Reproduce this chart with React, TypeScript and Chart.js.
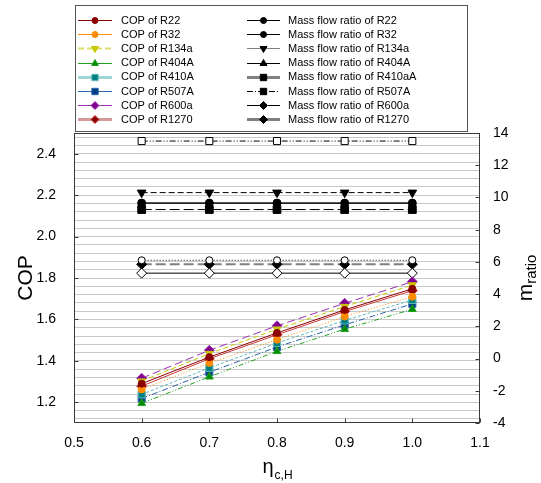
import React, { useEffect, useRef } from 'react';
import { Chart, registerables } from 'chart.js';

Chart.register(...registerables);

const FONT = 'Arial, "Liberation Sans", sans-serif';

// x values (eta_c,H)
const ETA = [0.6, 0.7, 0.8, 0.9, 1.0];
const X_TICKS = [0.5, 0.6, 0.7, 0.8, 0.9, 1.0, 1.1];
const COP_TICKS = [1.2, 1.4, 1.6, 1.8, 2.0, 2.2, 2.4];
const MR_TICKS = [-4, -2, 0, 2, 4, 6, 8, 10, 12, 14];

// COP series (left axis)
const COP_R22 = [1.29, 1.418, 1.535, 1.646, 1.748];
const COP_R32 = [1.262, 1.39, 1.502, 1.614, 1.71];
const COP_R134a = [1.302, 1.435, 1.553, 1.662, 1.766];
const COP_R404A = [1.195, 1.323, 1.446, 1.553, 1.649];
const COP_R410A = [1.238, 1.366, 1.486, 1.595, 1.694];
const COP_R507A = [1.218, 1.345, 1.467, 1.574, 1.675];
const COP_R600a = [1.316, 1.451, 1.569, 1.678, 1.782];
const COP_R1270 = [1.278, 1.41, 1.526, 1.638, 1.739];

// Mass flow ratio series (right axis)
const MR_R22 = [9.65, 9.65, 9.65, 9.65, 9.65];
const MR_R32 = [6.1, 6.1, 6.1, 6.1, 6.1];
const MR_R134a = [10.3, 10.3, 10.3, 10.3, 10.3];
const MR_R404A = [9.65, 9.65, 9.65, 9.65, 9.65];
const MR_R410aA = [9.25, 9.25, 9.25, 9.25, 9.25];
const MR_R507A = [13.5, 13.5, 13.5, 13.5, 13.5];
const MR_R600a = [5.3, 5.3, 5.3, 5.3, 5.3];
const MR_R1270 = [5.85, 5.85, 5.85, 5.85, 5.85];

function mk(label: string, data: number[], axis: string, st: any, lg: any) {
  return {
    label,
    data: data.map((y, i) => ({ x: ETA[i], y })),
    yAxisID: axis,
    borderColor: st.color,
    borderWidth: st.width ?? 1,
    borderDash: st.dash ?? [],
    pointStyle: st.shape,
    pointRotation: st.rot ?? 0,
    pointRadius: st.r,
    pointBackgroundColor: st.fill,
    pointBorderColor: st.pcolor ?? st.color,
    pointBorderWidth: 1,
    tension: 0,
    fill: false,
    lg: { color: lg.color ?? st.color, width: lg.width ?? 1, dash: lg.dash ?? [], fill: lg.fill ?? st.fill, pcolor: lg.pcolor ?? st.pcolor ?? st.color },
  };
}

function drawMarker(ctx: CanvasRenderingContext2D, shape: string, rot: number, x: number, y: number, r: number, fill: string, stroke: string) {
  ctx.save();
  ctx.setLineDash([]);
  ctx.lineWidth = 1;
  ctx.fillStyle = fill;
  ctx.strokeStyle = stroke;
  ctx.beginPath();
  if (shape === 'circle') {
    ctx.arc(x, y, r, 0, Math.PI * 2);
  } else if (shape === 'rect') {
    const s = r * Math.SQRT1_2;
    ctx.rect(x - s, y - s, 2 * s, 2 * s);
  } else if (shape === 'rectRot') {
    ctx.moveTo(x, y - r);
    ctx.lineTo(x + r, y);
    ctx.lineTo(x, y + r);
    ctx.lineTo(x - r, y);
    ctx.closePath();
  } else if (shape === 'triangle') {
    const a0 = (rot * Math.PI) / 180;
    for (let k = 0; k < 3; k++) {
      const a = a0 + (k * 2 * Math.PI) / 3;
      const px = x + Math.sin(a) * r;
      const py = y - Math.cos(a) * r;
      if (k === 0) ctx.moveTo(px, py);
      else ctx.lineTo(px, py);
    }
    ctx.closePath();
  }
  ctx.fill();
  ctx.stroke();
  ctx.restore();
}

const decorPlugin = {
  id: 'decor',
  afterDraw(chart: any) {
    const ctx: CanvasRenderingContext2D = chart.ctx;
    const { left, right, top, bottom } = chart.chartArea;
    const sx = chart.scales.x;
    const sy = chart.scales.y;
    const sy1 = chart.scales.y1;
    ctx.save();
    // frame
    ctx.strokeStyle = '#3a3a3a';
    ctx.lineWidth = 1;
    ctx.setLineDash([]);
    const L = Math.round(left) + 0.5, R = Math.round(right) - 0.5, T = Math.round(top) + 0.5, B = Math.round(bottom) - 0.5;
    ctx.strokeRect(L, T, R - L, B - T);
    // inward ticks
    ctx.beginPath();
    COP_TICKS.forEach((v) => {
      const y = Math.round(sy.getPixelForValue(v)) + 0.5;
      ctx.moveTo(L, y); ctx.lineTo(L + 4, y);
    });
    MR_TICKS.forEach((v) => {
      const y = Math.round(sy1.getPixelForValue(v)) + 0.5;
      ctx.moveTo(R, y); ctx.lineTo(R - 4, y);
    });
    X_TICKS.forEach((v) => {
      const x = Math.round(sx.getPixelForValue(v)) + 0.5;
      ctx.moveTo(x, B); ctx.lineTo(x, B - 4);
    });
    ctx.stroke();

    // axis titles
    ctx.fillStyle = '#000';
    ctx.textBaseline = 'alphabetic';
    // COP
    ctx.save();
    ctx.translate(32, (top + bottom) / 2);
    ctx.rotate(-Math.PI / 2);
    ctx.font = `21px ${FONT}`;
    ctx.textAlign = 'center';
    ctx.fillText('COP', 0, 0);
    ctx.restore();
    // m_ratio
    ctx.save();
    ctx.translate(532, (top + bottom) / 2);
    ctx.rotate(-Math.PI / 2);
    ctx.font = `21px ${FONT}`;
    const wm = ctx.measureText('m').width;
    ctx.font = `15px ${FONT}`;
    const wr = ctx.measureText('ratio').width;
    const start = -(wm + wr) / 2;
    ctx.textAlign = 'left';
    ctx.font = `21px ${FONT}`;
    ctx.fillText('m', start, 0);
    ctx.font = `15px ${FONT}`;
    ctx.fillText('ratio', start + wm, 4);
    ctx.restore();
    // eta_c,H
    ctx.save();
    ctx.font = `20px ${FONT}`;
    const we = ctx.measureText('η').width;
    ctx.font = `12px ${FONT}`;
    const ws = ctx.measureText('c,H').width;
    const cx = (left + right) / 2;
    const x0 = cx - (we + ws) / 2;
    ctx.textAlign = 'left';
    ctx.font = `20px ${FONT}`;
    ctx.fillText('η', x0, 473);
    ctx.font = `12px ${FONT}`;
    ctx.fillText('c,H', x0 + we + 1, 479);
    ctx.restore();

    // legend box
    ctx.fillStyle = '#fff';
    ctx.fillRect(75, 5, 392, 126);
    ctx.strokeStyle = '#555';
    ctx.lineWidth = 1;
    ctx.strokeRect(75.5, 5.5, 392, 126);
    ctx.font = `11px ${FONT}`;
    ctx.textBaseline = 'middle';
    ctx.textAlign = 'left';
    chart.data.datasets.forEach((d: any, i: number) => {
      const col = i < 8 ? 0 : 1;
      const row = i % 8;
      const y = 20 + row * 14.2;
      const x1 = col ? 247 : 78;
      const x2 = col ? 280 : 112;
      const xm = (x1 + x2) / 2;
      const yy = Math.round(y) + 0.5;
      ctx.save();
      ctx.strokeStyle = d.lg.color;
      ctx.lineWidth = d.lg.width;
      ctx.setLineDash(d.lg.dash);
      ctx.beginPath();
      ctx.moveTo(x1, yy);
      ctx.lineTo(x2, yy);
      ctx.stroke();
      ctx.restore();
      const rr = d.pointStyle === 'circle' ? 3 : d.pointStyle === 'rect' ? 4.5 : 4;
      drawMarker(ctx, d.pointStyle, d.pointRotation, xm, yy, rr, d.lg.fill, d.lg.pcolor);
      ctx.fillStyle = '#000';
      ctx.fillText(d.label, col ? 288 : 121, y + 0.5);
    });
    ctx.restore();
  },
};

const GRID_VALUES: number[] = [];
for (let k = 28; k <= 62; k++) GRID_VALUES.push(Math.round(k * 4) / 100);

export default function App() {
  const ref = useRef<HTMLCanvasElement | null>(null);
  useEffect(() => {
    if (!ref.current) return;
    Chart.defaults.font.family = FONT;
    Chart.defaults.color = '#000';
    const datasets: any[] = [
      mk('COP of R22', COP_R22, 'y', { color: '#8b0000', shape: 'circle', r: 3.5, fill: '#8b0000' }, {}),
      mk('COP of R32', COP_R32, 'y', { color: '#ff8c00', dash: [1, 2], shape: 'circle', r: 3.5, fill: '#ff8c00' }, {}),
      mk('COP of R134a', COP_R134a, 'y', { color: '#c8c800', dash: [5, 3], shape: 'triangle', rot: 180, r: 4.5, fill: '#c8c800' }, { color: '#dede70', width: 2, dash: [6, 3] }),
      mk('COP of R404A', COP_R404A, 'y', { color: '#22a022', dash: [5, 2, 1, 2, 1, 2], shape: 'triangle', r: 4.5, fill: '#008a00' }, { dash: [] }),
      mk('COP of R410A', COP_R410A, 'y', { color: '#5fb8b8', dash: [3, 2], shape: 'rect', r: 5, fill: '#008080' }, { color: '#9ed6d6', width: 3, dash: [] }),
      mk('COP of R507A', COP_R507A, 'y', { color: '#2a64a8', dash: [6, 2, 1, 2], shape: 'rect', r: 5, fill: '#003d85' }, {}),
      mk('COP of R600a', COP_R600a, 'y', { color: '#9b30b0', dash: [8, 4], shape: 'rectRot', r: 5, fill: '#800090' }, { dash: [14, 3, 1, 3] }),
      mk('COP of R1270', COP_R1270, 'y', { color: '#c83c3c', shape: 'rectRot', r: 5, fill: '#8b0000' }, { color: '#d49a9a', width: 3 }),
      mk('Mass flow ratio of R22', MR_R22, 'y1', { color: '#000', shape: 'circle', r: 4, fill: '#000' }, {}),
      mk('Mass flow ratio of R32', MR_R32, 'y1', { color: '#000', dash: [1, 2], shape: 'circle', r: 3.5, fill: '#fff' }, { fill: '#000' }),
      mk('Mass flow ratio of R134a', MR_R134a, 'y1', { color: '#000', dash: [6, 3], shape: 'triangle', rot: 180, r: 5, fill: '#000' }, { color: '#808080' }),
      mk('Mass flow ratio of R404A', MR_R404A, 'y1', { color: '#000', shape: 'triangle', r: 3.5, fill: '#000' }, { }),
      mk('Mass flow ratio of R410aA', MR_R410aA, 'y1', { color: '#000', dash: [10, 4], shape: 'rect', r: 5.5, fill: '#000' }, { color: '#808080', width: 3, dash: [] }),
      mk('Mass flow ratio of R507A', MR_R507A, 'y1', { color: '#000', dash: [6, 2, 1, 2, 1, 2], shape: 'rect', r: 5, fill: '#fff' }, { fill: '#000', dash: [6, 2, 1, 2] }),
      mk('Mass flow ratio of R600a', MR_R600a, 'y1', { color: '#000', shape: 'rectRot', r: 5, fill: '#fff' }, { fill: '#000', dash: [14, 3, 1, 3] }),
      mk('Mass flow ratio of R1270', MR_R1270, 'y1', { color: '#808080', width: 2, dash: [10, 4], shape: 'rectRot', r: 5, fill: '#000', pcolor: '#000' }, { width: 3, dash: [] }),
    ];
    const chart = new Chart(ref.current, {
      type: 'line',
      data: { datasets },
      plugins: [decorPlugin as any],
      options: {
        animation: false,
        responsive: false,
        maintainAspectRatio: false,
        layout: { padding: { top: 133, left: 0, right: 0, bottom: 0 } },
        plugins: { legend: { display: false }, tooltip: { enabled: false }, title: { display: false } },
        scales: {
          x: {
            type: 'linear',
            min: 0.5,
            max: 1.1,
            afterBuildTicks: (s: any) => { s.ticks = X_TICKS.map((v) => ({ value: v })); },
            afterFit: (s: any) => { s.height = 60; },
            grid: { display: false, drawTicks: false },
            border: { display: false },
            ticks: { padding: 12, autoSkip: false, maxRotation: 0, color: '#000', font: { size: 14, family: FONT }, callback: (v: any) => Number(v).toFixed(1) },
          },
          y: {
            type: 'linear',
            position: 'left',
            min: 1.1,
            max: 2.5,
            afterBuildTicks: (s: any) => { s.ticks = GRID_VALUES.map((v) => ({ value: v })); },
            afterFit: (s: any) => { s.width = 74; },
            grid: { color: '#c8c8c8', lineWidth: 1, drawTicks: false },
            border: { display: false },
            ticks: {
              padding: 18, autoSkip: false, color: '#000', font: { size: 14, family: FONT },
              callback: (v: any) => (COP_TICKS.some((t) => Math.abs(t - Number(v)) < 1e-6) ? Number(v).toFixed(1) : ''),
            },
          },
          y1: {
            type: 'linear',
            position: 'right',
            min: -4,
            max: 14,
            afterBuildTicks: (s: any) => { s.ticks = MR_TICKS.map((v) => ({ value: v })); },
            afterFit: (s: any) => { s.width = 61; },
            grid: { display: false, drawTicks: false },
            border: { display: false },
            ticks: { padding: 13, autoSkip: false, color: '#000', font: { size: 14, family: FONT }, callback: (v: any) => String(v) },
          },
        },
      } as any,
    });
    return () => chart.destroy();
  }, []);
  return (
    <div style={{ position: 'fixed', left: 0, top: 0, width: 541, height: 483, background: '#fff' }}>
      <canvas ref={ref} width={541} height={483} style={{ display: 'block', width: 541, height: 483 }} />
    </div>
  );
}
